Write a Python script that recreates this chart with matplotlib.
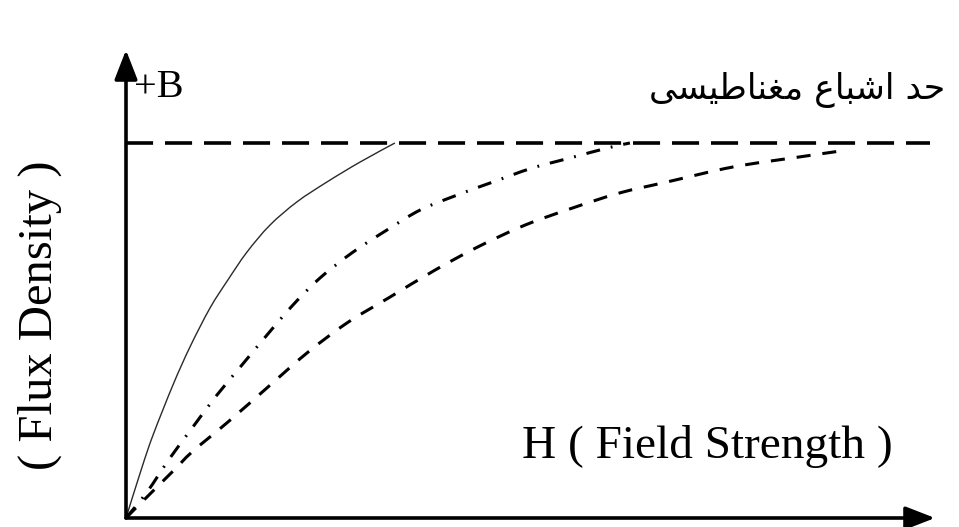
import matplotlib
matplotlib.use("Agg")
import matplotlib.pyplot as plt
import numpy as np
from matplotlib.path import Path
from matplotlib.patches import PathPatch

# magnetisation curves, H in axis units, B normalised to saturation (= 1)
h_soft = [0, 0.192, 0.33, 0.574, 0.781, 1.026, 1.245, 1.477, 1.758, 2.088,
          2.454, 2.857, 3.284]
b_soft = [0, 0.133, 0.221, 0.355, 0.456, 0.56, 0.635, 0.709, 0.781, 0.843,
          0.896, 0.949, 1.0]

h_mid = [0, 0.256, 0.537, 0.818, 1.111, 1.416, 1.722, 2.039, 2.369, 2.772,
         3.187, 3.59, 4.042, 4.481, 4.957, 5.421, 5.885, 6.154]
b_mid = [0, 0.069, 0.16, 0.243, 0.328, 0.408, 0.488, 0.568, 0.64, 0.709,
         0.768, 0.821, 0.861, 0.896, 0.933, 0.96, 0.987, 1.0]

h_hard = [0, 0.085, 0.574, 0.806, 1.245, 1.722, 2.21, 2.698, 3.223, 3.773,
          4.298, 4.872, 5.458, 6.032, 6.606, 7.411, 8.23, 8.803]
b_hard = [0, 0.019, 0.125, 0.176, 0.256, 0.347, 0.44, 0.52, 0.589, 0.661,
          0.723, 0.781, 0.827, 0.867, 0.896, 0.936, 0.963, 0.981]

b_sat = 1.0
h_sat_end = 9.82

x_label = "H ( Field Strength )"
y_label = "( Flux Density )"
b_label = "+B"
# "حد اشباع مغناطیسی" -- matplotlib does no Arabic shaping, so the
# presentation forms are written out in visual (left to right) order
sat_label = ("\uFBFD\uFEB4\uFBFF\uFEC3\uFE8E\uFEE8\uFED0\uFEE3 "
             "\uFEC9\uFE8E\uFE92\uFEB7\uFE8D \uFEAA\uFEA3")


def smooth_path(xs, ys):
    # cubic bezier through the points (catmull-rom tangents)
    p = np.column_stack([xs, ys]).astype(float)
    verts = [p[0]]
    codes = [Path.MOVETO]
    for i in range(len(p) - 1):
        p0 = p[i - 1] if i > 0 else p[i]
        p3 = p[i + 2] if i + 2 < len(p) else p[i + 1]
        c1 = p[i] + (p[i + 1] - p0) / 6
        c2 = p[i + 1] - (p3 - p[i]) / 6
        verts += [c1, c2, p[i + 1]]
        codes += [Path.CURVE4] * 3
    return Path(verts, codes)


def add_curve(ax, xs, ys, **kw):
    ax.add_patch(PathPatch(smooth_path(xs, ys), fill=False,
                           capstyle="butt", **kw))


W, H = 959, 527
fig = plt.figure(figsize=(W / 100, H / 100), dpi=100)
ax = fig.add_axes([126 / W, 9 / H, 809 / W, 468 / H])
ax.set_xlim(0, 9.88)
ax.set_ylim(0, 1.248)
ax.axis("off")

ax.plot([0, h_sat_end], [b_sat, b_sat], color="black", lw=2.6,
        dashes=(7.5, 3.3), solid_capstyle="butt", dash_capstyle="butt")
add_curve(ax, h_soft, b_soft, edgecolor="#2a2a2a", lw=1.0)
add_curve(ax, h_mid, b_mid, edgecolor="black", lw=2.2,
          linestyle=(0, (4.6, 3.6, 0.6, 3.6)))
add_curve(ax, h_hard, b_hard, edgecolor="black", lw=2.2,
          linestyle=(0, (4.6, 3.9)))

# axes with arrow heads
arrow = dict(arrowstyle="-|>,head_length=0.9,head_width=0.35", lw=2.6,
             color="black", mutation_scale=20, shrinkA=0, shrinkB=0)
ax.annotate("", xy=(1, 0), xytext=(0, 0), xycoords="axes fraction",
            arrowprops=arrow, annotation_clip=False)
ax.annotate("", xy=(0, 1), xytext=(0, 0), xycoords="axes fraction",
            arrowprops=arrow, annotation_clip=False)

serif = "Liberation Serif"
fig.text(134 / W, 1 - 97 / H, b_label, family=serif, fontsize=29,
         ha="left", va="baseline")
fig.text(522 / W, 1 - 458 / H, x_label, family=serif, fontsize=34,
         ha="left", va="baseline")
fig.text(40 / W, 1 - 315 / H, y_label, family=serif, fontsize=35,
         rotation=90, ha="center", va="center")
fig.text(945 / W, 1 - 99 / H, sat_label, family=["DejaVu Sans"],
         fontsize=25, ha="right", va="baseline")

fig.savefig("out.png", dpi=100)
